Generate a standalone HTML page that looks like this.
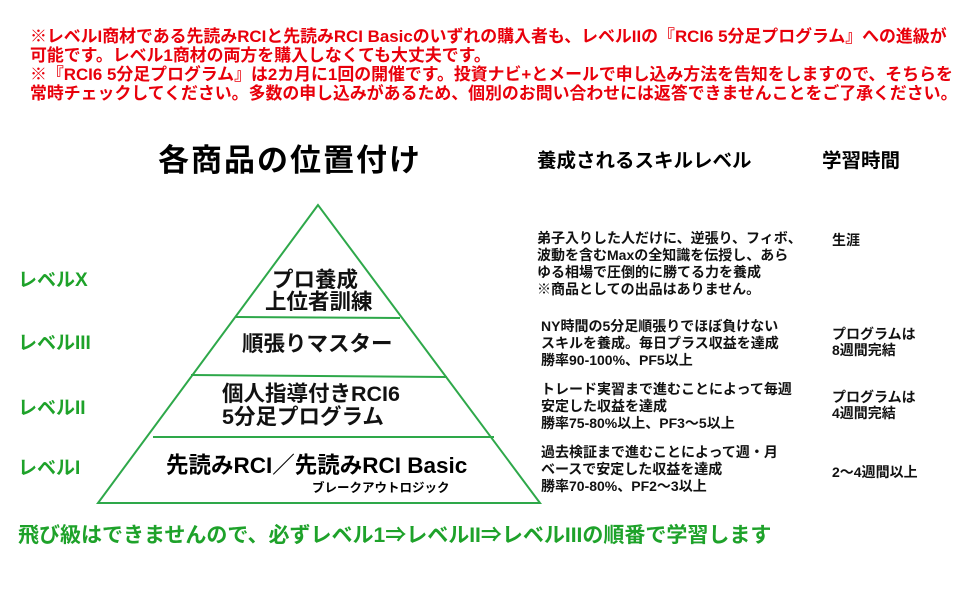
<!DOCTYPE html>
<html><head><meta charset="utf-8"><style>
body{margin:0;width:975px;height:607px;background:#fff;position:relative;overflow:hidden;font-family:"Liberation Sans","Noto Sans CJK JP",sans-serif;font-weight:bold}
.a{position:absolute;white-space:nowrap;line-height:1}
.r{color:#e8000b;font-size:16.9px}
.g{color:#1ea22a;font-size:19px}
.s{font-size:14px;color:#111}
.p{font-size:21.5px;color:#111}
</style></head><body>
<div class="a r" style="left:30px;top:29px">※レベルI商材である先読みRCIと先読みRCI Basicのいずれの購入者も、レベルIIの『RCI6 5分足プログラム』への進級が</div>
<div class="a r" style="left:30px;top:48px">可能です。レベル1商材の両方を購入しなくても大丈夫です。</div>
<div class="a r" style="left:30px;top:67px">※『RCI6 5分足プログラム』は2カ月に1回の開催です。投資ナビ+とメールで申し込み方法を告知をしますので、そちらを</div>
<div class="a r" style="left:30px;top:86px">常時チェックしてください。多数の申し込みがあるため、個別のお問い合わせには返答できませんことをご了承ください。</div>

<div class="a" style="left:158px;top:145px;font-size:31px;letter-spacing:2px">各商品の位置付け</div>
<div class="a" style="left:537px;top:152px;font-size:19.5px">養成されるスキルレベル</div>
<div class="a" style="left:822px;top:152px;font-size:19.5px">学習時間</div>

<svg class="a" style="left:0;top:0" width="975" height="607">
<g stroke="#2ea84a" stroke-width="2" fill="none">
<polygon points="318,205 98,503 540,503"/>
<line x1="236" y1="317" x2="400" y2="318"/>
<line x1="191" y1="375" x2="447" y2="377"/>
<line x1="153" y1="437" x2="494" y2="437"/>
</g></svg>

<div class="a p" style="left:272px;top:270px">プロ養成</div>
<div class="a p" style="left:265px;top:292px">上位者訓練</div>
<div class="a p" style="left:242px;top:334px">順張りマスター</div>
<div class="a p" style="left:222px;top:384px">個人指導付きRCI6</div>
<div class="a p" style="left:222px;top:407px">5分足プログラム</div>
<div class="a" style="left:166px;top:455px;font-size:22.5px">先読みRCI／先読みRCI Basic</div>
<div class="a" style="left:312px;top:482px;font-size:12.5px">ブレークアウトロジック</div>

<div class="a g" style="left:18px;top:271px">レベルX</div>
<div class="a g" style="left:18px;top:334px">レベルIII</div>
<div class="a g" style="left:18px;top:399px">レベルII</div>
<div class="a g" style="left:18px;top:459px">レベルI</div>

<div class="a s" style="left:537px;top:230px;line-height:17px">弟子入りした人だけに、逆張り、フィボ、<br>波動を含むMaxの全知識を伝授し、あら<br>ゆる相場で圧倒的に勝てる力を養成<br>※商品としての出品はありません。</div>
<div class="a s" style="left:541px;top:318px;line-height:17px">NY時間の5分足順張りでほぼ負けない<br>スキルを養成。毎日プラス収益を達成<br>勝率90-100%、PF5以上</div>
<div class="a s" style="left:541px;top:381px;line-height:17px">トレード実習まで進むことによって毎週<br>安定した収益を達成<br>勝率75-80%以上、PF3～5以上</div>
<div class="a s" style="left:541px;top:444px;line-height:17px">過去検証まで進むことによって週・月<br>ベースで安定した収益を達成<br>勝率70-80%、PF2～3以上</div>

<div class="a s" style="left:832px;top:233px">生涯</div>
<div class="a s" style="left:832px;top:326px;line-height:16px">プログラムは<br>8週間完結</div>
<div class="a s" style="left:832px;top:389px;line-height:16px">プログラムは<br>4週間完結</div>
<div class="a s" style="left:832px;top:465px">2～4週間以上</div>

<div class="a g" style="left:18px;top:525px;font-size:21px">飛び級はできませんので、必ずレベル1⇒レベルII⇒レベルIIIの順番で学習します</div>
</body></html>
